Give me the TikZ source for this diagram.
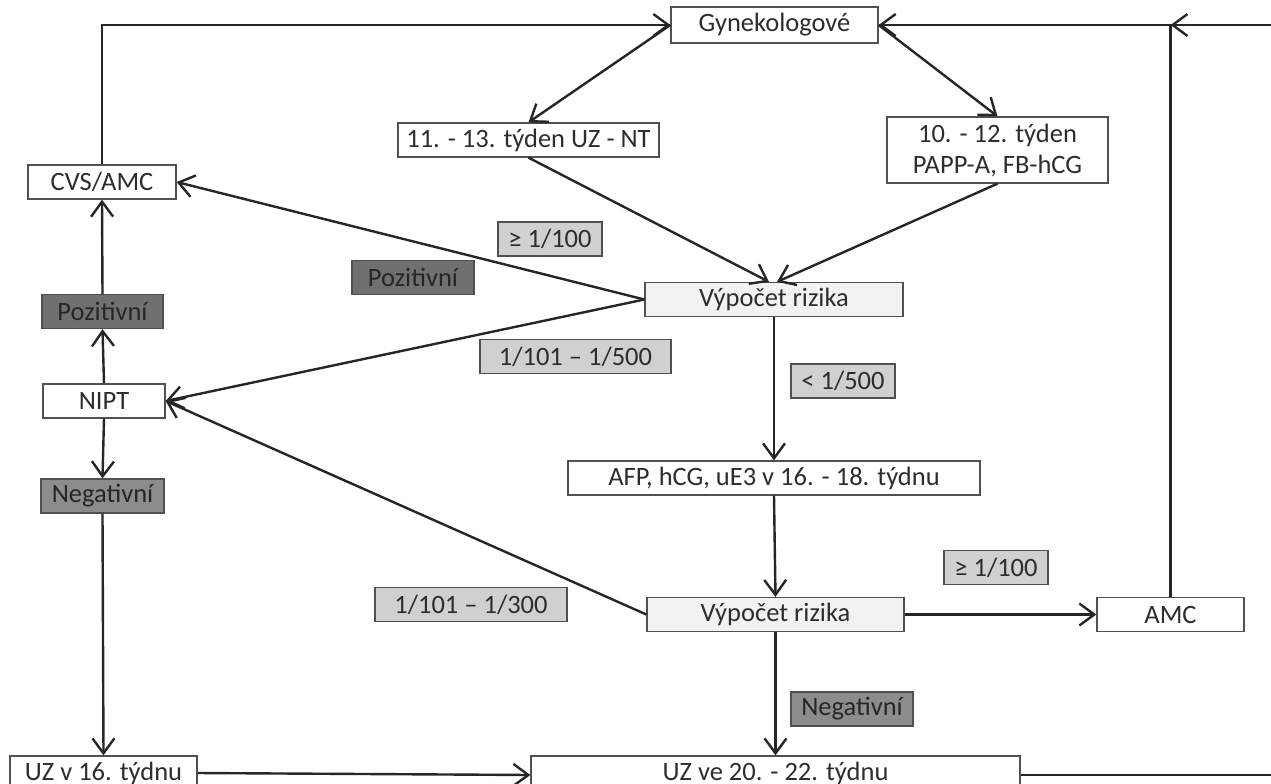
\documentclass[tikz,border=0pt]{standalone}
\usepackage{fontspec}
\setmainfont{Carlito}
\usetikzlibrary{arrows.meta}

\definecolor{txt}{RGB}{45,45,45}
\definecolor{boxline}{RGB}{80,80,80}
\definecolor{wire}{RGB}{38,38,38}
\definecolor{riskfill}{RGB}{242,242,242}
\definecolor{taglight}{RGB}{208,208,208}
\definecolor{tagdark}{RGB}{112,112,112}
\definecolor{tagmid}{RGB}{140,140,140}

\tikzset{
  wbox/.style={draw=boxline,line width=1.3pt,fill=white,text=txt,
    font=\fontsize{26.5}{31}\selectfont,minimum height=34pt,inner sep=0pt},
  rbox/.style={wbox,fill=riskfill},
  tag/.style={wbox,fill=taglight},
  dtag/.style={wbox,fill=tagdark,text=black!85},
  ntag/.style={wbox,fill=tagmid,text=black!85}
}

\begin{document}
\begin{tikzpicture}[x=1pt,y=-1pt,->,>={Straight Barb[length=15pt,width=22pt]},
  line width=2.4pt,draw=wire]
  \clip (0,0) rectangle (1271,784);

  \node[wbox,minimum width=207pt,minimum height=36pt] (gyn) at (774.5,25) {Gynekologové};
  \node[wbox,minimum width=261pt] (nt)  at (528.5,140) {11. - 13. týden UZ - NT};
  \node[wbox,minimum width=221pt,minimum height=66pt,align=center] (papp) at (997.5,150)
       {10. - 12. týden\\PAPP-A, FB-hCG};
  \node[wbox,minimum width=148pt] (cvs)  at (102,182)   {CVS/AMC};
  \node[rbox,minimum width=258pt] (risk1) at (774,299.5) {Výpočet rizika};
  \node[wbox,minimum width=122pt] (nipt) at (104,401)   {NIPT};
  \node[wbox,minimum width=412pt] (afp)  at (774,478)   {AFP, hCG, uE3 v 16. - 18. týdnu};
  \node[rbox,minimum width=257pt] (risk2) at (775.5,614.5) {Výpočet rizika};
  \node[wbox,minimum width=147pt] (amc)  at (1170.5,614.5) {AMC};
  \node[wbox,minimum width=187pt] (uza)  at (103.5,773) {UZ v 16. týdnu};
  \node[wbox,minimum width=489pt] (uzb)  at (775.5,773) {UZ ve 20. - 22. týdnu};

  % result tags
  \node[tag,minimum width=104pt] (hi1)  at (550,239)     {≥ 1/100};
  \node[dtag,minimum width=122pt] (pos1) at (413,277.5)  {Pozitivní};
  \node[dtag,minimum width=121pt] (pos2) at (102.5,311.5) {Pozitivní};
  \node[tag,minimum width=191pt] (mid1) at (575.5,356.5) {1/101 – 1/500};
  \node[tag,minimum width=104pt] (lo1)  at (843,381)     {< 1/500};
  \node[ntag,minimum width=123pt] (neg1) at (102.5,496)  {Negativní};
  \node[tag,minimum width=104pt] (hi2)  at (996,567.5)   {≥ 1/100};
  \node[tag,minimum width=192pt] (mid2) at (471,604.5)   {1/101 – 1/300};
  \node[ntag,minimum width=122pt] (neg2) at (852,709)    {Negativní};

  \coordinate (edge) at (1300,25);
  \coordinate (join) at (amc.north |- gyn.east);

  \path (gyn.west) edge (nt.north)
        (gyn.east) edge (papp.north)
        (nt.south) edge ([xshift=-5pt]risk1.north)
        (papp.south) edge ([xshift=3pt]risk1.north)
        (risk1.west) edge (cvs.east)
        (risk1.west) edge (nipt.east)
        (risk1.south) edge (afp.north)
        (afp.south) edge (risk2.north)
        (risk2.west) edge (nipt.east)
        (risk2.east) edge (amc.west)
        (risk2.south) edge (uzb.north)
        (nipt.north) edge (pos2.south)
        (pos2.north) edge (cvs.south)
        (nipt.south) edge (neg1.north)
        (neg1.south) edge (uza.north)
        (uza.east) edge ([yshift=-2pt]uzb.west);

  \draw (cvs.north) |- (gyn.west);
  \draw (amc.north) |- (gyn.east);
  \draw ([yshift=-2pt]uzb.east) -| (edge) -- (join);
\end{tikzpicture}
\end{document}
